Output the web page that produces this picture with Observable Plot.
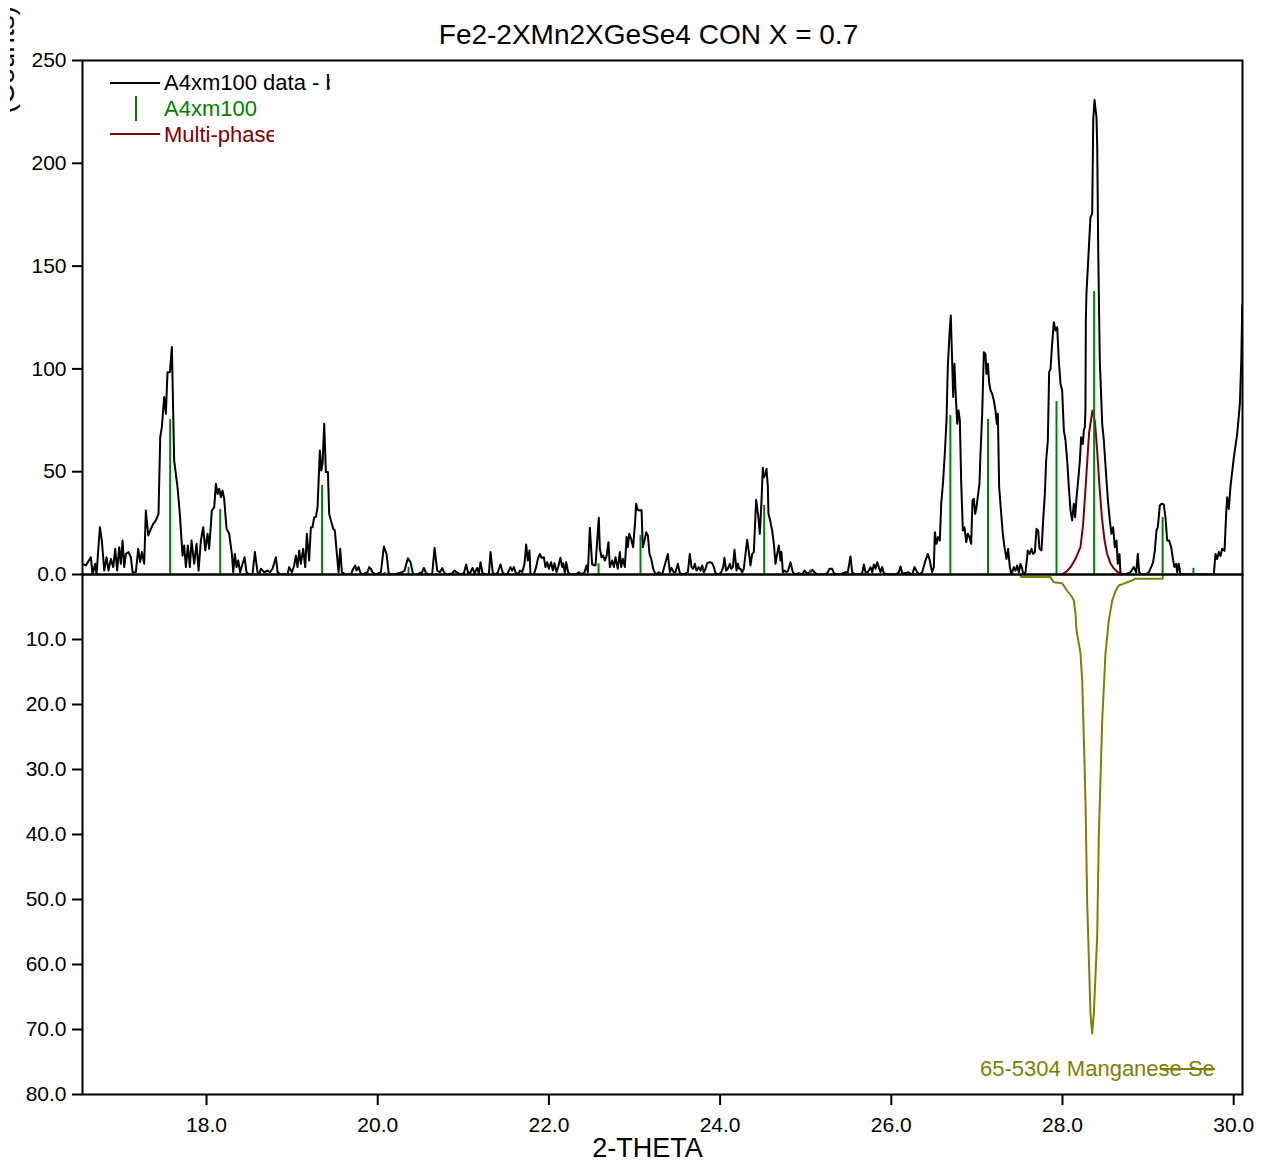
<!DOCTYPE html>
<html><head><meta charset="utf-8">
<script src="https://cdn.jsdelivr.net/npm/d3@7"></script>
<script src="https://cdn.jsdelivr.net/npm/@observablehq/plot@0.6"></script>
<style>
body{margin:0;background:#fff;}
#wrap{position:relative;width:1272px;height:1164px;overflow:hidden;font-family:"Liberation Sans",Arial,sans-serif;}
#top,#bottom{position:absolute;left:0;}
#top{top:0;z-index:2}
#bottom{top:574px;z-index:1}
.lg{position:absolute;white-space:nowrap;overflow:hidden;font-size:22px;line-height:26px;height:26px;z-index:3}
.sw{position:absolute;z-index:3}
#ylab{position:absolute;left:10px;top:0;width:30px;height:125px;overflow:hidden;z-index:3}
</style></head>
<body><div id="wrap">
<div id="top"></div><div id="bottom"></div>
<div id="ylab"><svg width="30" height="125"><text transform="translate(4,6) rotate(-90)" text-anchor="end" font-size="28" font-family="Liberation Sans, Arial, sans-serif" fill="#000">(Counts)</text></svg></div>
<div class="sw" style="left:110px;top:82px;width:50px;height:2px;background:#000"></div>
<div class="lg" style="left:164px;top:70px;width:166px;color:#000">A4xm100 data - background</div>
<div class="sw" style="left:135px;top:96px;width:2px;height:25px;background:#008000"></div>
<div class="lg" style="left:164px;top:96px;width:93px;color:#008000">A4xm100</div>
<div class="sw" style="left:110px;top:133px;width:50px;height:2px;background:#800000"></div>
<div class="lg" style="left:164px;top:122px;width:110px;color:#800000">Multi-phase fit</div>
<div class="lg" style="left:980px;top:1056px;width:235px;color:#808000">65-5304 Manganese Selenide</div>
<div class="sw" style="left:1160px;top:1068px;width:55px;height:2px;background:#808000"></div>
</div>
<script>
const titleText = "Fe2-2XMn2XGeSe4 CON X = 0.7";
const xLabel = "2-THETA";
const xDomain = [16.551, 30.103];
const xTicks = [18, 20, 22, 24, 26, 28, 30];
const yTopTicks = [0, 50, 100, 150, 200, 250];
const yTopLabels = ["0.0", "50", "100", "150", "200", "250"];
const yBotTicks = [10, 20, 30, 40, 50, 60, 70, 80];

// observed pattern (2-theta, counts)
const obsX = [16.551,16.590,16.649,16.668,16.699,16.715,16.754,16.777,16.805,16.832,16.855,16.882,16.910,16.933,16.956,16.980,16.999,17.019,17.038,17.058,17.089,17.116,17.136,17.174,17.202,17.225,17.245,17.272,17.291,17.319,17.350,17.377,17.408,17.439,17.459,17.478,17.505,17.525,17.544,17.572,17.595,17.622,17.661,17.688,17.720,17.739,17.759,17.782,17.805,17.825,17.856,17.883,17.907,17.934,17.961,17.985,18.012,18.031,18.062,18.090,18.109,18.129,18.148,18.168,18.187,18.206,18.234,18.265,18.296,18.312,18.331,18.351,18.370,18.393,18.421,18.444,18.467,18.498,18.537,18.565,18.596,18.615,18.635,18.674,18.713,18.740,18.771,18.810,18.830,18.868,18.946,18.966,18.997,19.024,19.044,19.063,19.083,19.102,19.129,19.153,19.172,19.199,19.219,19.238,19.258,19.277,19.297,19.324,19.340,19.355,19.375,19.394,19.418,19.433,19.453,19.480,19.499,19.519,19.542,19.562,19.581,19.628,19.686,19.714,19.737,19.752,19.776,19.795,19.822,19.881,19.900,19.920,19.939,19.978,20.037,
20.072,20.103,20.130,20.188,20.286,20.313,20.352,20.383,20.414,20.461,20.519,20.539,20.566,20.597,20.636,20.664,20.695,20.726,20.753,20.780,20.812,20.870,20.897,20.928,20.967,21.006,21.033,21.057,21.084,21.107,21.131,21.162,21.181,21.201,21.224,21.259,21.298,21.318,21.345,21.376,21.403,21.435,21.462,21.512,21.551,21.571,21.590,21.610,21.637,21.660,21.688,21.715,21.734,21.754,21.773,21.785,21.824,21.851,21.871,21.894,21.914,21.941,21.960,21.980,21.999,22.026,22.046,22.065,22.089,22.108,22.135,22.155,22.167,22.186,22.202,22.225,22.252,22.311,22.350,22.389,22.416,22.439,22.455,22.478,22.505,22.544,22.583,22.595,22.615,22.634,22.653,22.673,22.696,22.712,22.739,22.759,22.778,22.805,22.829,22.844,22.864,22.887,22.907,22.922,22.938,22.961,22.984,23.008,23.019,23.039,23.062,23.082,23.097,23.117,23.136,23.156,23.175,23.195,23.218,23.245,23.284,23.323,23.389,23.413,23.432,23.459,23.479,23.506,23.530,
23.576,23.623,23.646,23.666,23.685,23.705,23.724,23.752,23.771,23.791,23.810,23.830,23.849,23.880,23.907,23.927,23.946,23.985,24.013,24.036,24.051,24.071,24.090,24.114,24.129,24.149,24.168,24.192,24.207,24.223,24.238,24.258,24.277,24.297,24.316,24.336,24.355,24.375,24.394,24.421,24.445,24.464,24.484,24.499,24.511,24.530,24.542,24.558,24.565,24.589,24.608,24.628,24.647,24.667,24.686,24.706,24.717,24.733,24.752,24.776,24.795,24.822,24.850,24.881,24.920,24.959,24.986,25.017,25.056,25.076,25.103,25.134,25.173,25.212,25.251,25.278,25.309,25.329,25.368,25.407,25.434,25.465,25.492,25.523,25.543,25.582,25.621,25.660,25.679,25.699,25.726,25.757,25.777,25.796,25.816,25.835,25.854,25.874,25.893,25.913,25.952,26.010,26.049,26.088,26.108,26.127,26.166,26.197,26.217,26.244,26.271,26.302,26.333,26.361,26.399,26.427,26.450,26.477,26.497,26.509,
26.528,26.547,26.567,26.583,26.606,26.625,26.645,26.660,26.680,26.695,26.711,26.723,26.738,26.754,26.770,26.785,26.801,26.816,26.836,26.855,26.875,26.894,26.914,26.933,26.949,26.964,26.980,26.995,27.015,27.030,27.042,27.062,27.081,27.100,27.112,27.128,27.143,27.159,27.178,27.198,27.217,27.233,27.245,27.260,27.284,27.303,27.322,27.346,27.365,27.385,27.404,27.431,27.451,27.470,27.490,27.509,27.529,27.541,27.568,27.595,27.618,27.638,27.657,27.677,27.696,27.716,27.731,27.755,27.774,27.794,27.809,27.829,27.844,27.860,27.879,27.899,27.918,27.938,27.957,27.977,27.996,28.016,28.035,28.055,28.074,28.094,28.113,28.132,28.148,28.164,28.183,28.203,28.218,28.238,28.249,28.261,28.268,28.273,28.280,28.327,28.347,28.359,28.374,28.397,28.406,28.417,28.429,28.436,28.464,28.483,28.514,28.534,28.553,28.572,28.592,28.611,28.631,28.646,28.666,28.678,28.709,28.736,28.794,28.833,28.861,28.880,28.896,28.919,28.970,29.009,29.036,29.059,29.079,29.098,29.114,29.137,29.157,29.184,29.203,29.223,29.246,29.270,29.293,29.308,29.328,29.340,29.359,29.379,29.495,29.612,29.768,29.787,29.807,29.826,29.846,29.865,29.893,29.912,29.924,29.943,29.963,30.002,30.041,30.072,30.089,30.100];
const obsY = [5.2,4.4,8.4,0,5.2,0,23.0,16.5,1.9,8.4,1.9,7.6,3.6,12.5,1.9,13.3,5.2,16.5,3.6,10.0,10.9,8.4,1.1,1.1,12.5,6.0,10.9,5.2,31.1,19.0,22.2,24.6,26.3,29.5,66.8,71.7,86.3,78.2,98.4,98.4,110.6,55.4,42.5,29.5,9.2,14.1,3.6,14.1,3.6,16.5,5.2,14.9,1.9,16.5,23.0,11.7,19.8,12.5,31.1,32.7,44.1,39.2,41.7,37.6,40.9,36.8,22.2,19.8,10.0,1.1,10.0,3.6,6.8,1.1,5.2,8.4,1.1,0,0,10.9,1.1,0,2.8,1.1,1.9,1.1,2.8,8.4,1.1,0,0,3.6,1.1,4.4,9.2,3.6,11.7,5.2,12.5,3.6,19.8,6.8,23.0,23.0,27.9,27.9,32.7,60.3,50.6,53.8,73.3,49.8,49.8,29.5,26.3,22.2,21.4,11.7,1.1,12.5,1.1,0,0,2.8,4.4,1.9,3.6,1.1,0,1.1,3.6,2.8,1.1,0,1.1,
13.6,10.0,0,0,1.1,1.9,7.9,6.0,0,0,1.1,3.2,0.6,0,0,13.0,1.9,1.1,3.1,0.6,0,0.6,1.9,0.9,0,0.6,4.9,0.6,1.1,3.2,0.6,3.2,0.6,6.0,0.6,0,0,10.9,0.6,0,1.1,4.9,0.6,0,3.6,1.9,3.6,1.1,0,1.9,1.1,5.2,14.6,6.8,11.7,0,0,3.6,7.6,10.0,8.1,8.4,3.6,6.0,2.8,6.0,1.9,5.5,1.1,3.6,8.1,3.6,5.5,0.6,6.0,1.1,0,0,1.1,0,1.1,4.4,1.1,22.7,4.9,4.4,27.6,12.5,8.4,9.2,6.8,8.8,15.7,3.6,6.8,3.6,8.4,2.8,10.9,3.6,7.6,3.6,18.2,13.3,19.8,17.3,13.3,26.3,34.4,31.4,31.1,31.4,13.3,16.5,20.6,19.0,10.0,7.6,2.8,0,1.1,0,10.0,1.1,3.2,1.1,1.1,5.2,0.6,
0,1.1,10.0,3.6,2.8,5.2,1.9,3.6,1.9,4.4,1.1,2.8,5.5,6.0,5.5,3.6,0.6,0,1.1,3.6,8.1,1.9,2.8,5.2,2.8,3.6,12.0,1.9,5.2,2.8,2.8,1.1,2.8,10.0,16.9,10.9,4.4,10.0,10.9,36.3,28.7,19.8,36.0,51.9,47.3,49.0,51.4,42.5,29.5,25.5,21.4,14.9,5.2,10.0,14.1,6.8,10.9,1.1,1.9,1.1,1.9,6.0,1.1,0,0.6,0,1.9,0.6,1.1,2.3,1.1,0,0,0,0.6,2.8,2.8,0.6,0,0,0.6,1.1,1.1,8.8,1.1,0,0,0.6,4.9,1.1,1.1,3.6,1.1,4.9,2.8,6.0,3.6,1.1,3.6,0.6,0,0,0,1.1,3.9,0.6,0.6,1.1,0.6,0,3.6,1.1,0,1.1,6.8,10.0,6.8,1.1,3.6,20.6,
14.9,18.2,16.5,34.4,45.7,58.7,74.9,100.8,117.1,126.0,104.0,86.3,102.5,86.3,73.3,79.8,74.9,45.7,21.4,23.0,15.7,19.8,18.2,14.9,36.0,36.8,29.5,32.7,39.2,44.1,58.7,78.2,108.1,107.3,97.6,102.5,93.5,89.5,87.9,84.6,79.8,73.3,78.2,42.5,29.5,19.8,13.3,7.6,12.5,3.6,0,3.6,1.9,4.4,1.1,5.2,2.8,0,1.1,11.7,10.0,12.5,10.0,10.9,22.2,21.4,12.5,11.7,26.3,39.2,55.4,65.2,98.4,100.0,112.2,122.7,118.7,120.3,104.0,92.7,89.5,70.0,65.2,55.4,42.5,31.1,26.3,34.4,27.9,37.6,45.7,55.4,66.8,63.5,70.0,71.7,79.8,123.5,136.7,173.8,175.5,220.8,230.9,222.4,207.8,159.2,123.5,104.0,73.3,65.2,45.7,34.4,26.3,19.8,23.0,13.3,16.5,5.2,10.0,0,0,0,1.1,3.6,1.1,10.0,1.1,0,0,1.1,3.6,6.0,11.7,21.4,23.0,33.6,34.4,34.1,27.9,16.5,16.5,13.3,6.8,3.6,5.2,1.1,5.2,0,0,0,0,10.0,7.5,11.0,9.0,12.5,11.5,29.5,37.6,31.9,43.0,57.0,68.4,83.0,104.0,131.0];

// reference peak positions (sticks)
const stickX = [17.575,18.16,19.35,20.08,20.36,21.69,22.58,23.07,24.515,25.05,26.69,27.13,27.93,28.37,29.17,29.53];
const stickY = [75.4,31.6,43.3,1.1,3.5,1.0,5.2,19.0,33.6,2.0,77.3,75.4,84.1,137.6,27.7,3.0];

// multi-phase fit
const fitX = [27.99,28.05,28.10,28.15,28.21,28.24,28.27,28.31,28.35,28.38,28.405,28.43,28.46,28.49,28.52,28.56,28.60,28.65,28.70];
const fitY = [0,1.5,3.9,7.5,13.3,24,42.5,68.6,79.8,74,60.3,44,27.9,17,10.2,5.5,2.9,1,0];

// 65-5304 Manganese Selenide reference (drawn downward)
const refX = [27.509,27.515,27.860,27.898,27.996,28.055,28.113,28.132,28.152,28.164,28.210,28.230,28.249,28.269,28.289,28.327,28.347,28.366,28.405,28.424,28.464,28.502,28.541,28.581,28.621,28.658,28.716,28.756,28.815,28.853,29.170,29.175];
const refY = [0,0.4,0.4,1.2,1.35,2.5,3.5,4.0,6.0,8.6,12.1,16.3,25.0,35.2,50.7,67.5,70.6,67.6,55.8,40.4,22.5,12.2,7.1,4.0,2.5,1.7,1.4,1.2,0.9,0.65,0.65,0];

const obs = obsX.map((x,i)=>({x, y:obsY[i]}));
const sticks = stickX.map((x,i)=>({x, y:stickY[i]}));
const fit = fitX.map((x,i)=>({x, y:fitY[i]}));
const ref = refX.map((x,i)=>({x, y:refY[i]}));

const FONT = "Liberation Sans, Arial, sans-serif";
const W = 1272, ML = 82, MR = 30;

const topPlot = Plot.plot({
  width: W, height: 574, marginTop: 60, marginBottom: 0, marginLeft: ML, marginRight: MR,
  style: {fontFamily: FONT, background: "transparent", color: "#000", overflow: "visible"},
  x: {domain: xDomain, axis: null},
  y: {domain: [0, 250], axis: null},
  marks: [
    Plot.axisY({ticks: yTopTicks, tickFormat: d => yTopLabels[yTopTicks.indexOf(d)], tickSize: 10, tickPadding: 6, strokeWidth: 2, fontSize: 21, label: null}),
    Plot.line(obs, {x: "x", y: "y", stroke: "#000", strokeWidth: 2, clip: true}),
    Plot.line(fit, {x: "x", y: "y", stroke: "#800000", strokeWidth: 2}),
    Plot.ruleX(sticks, {x: "x", y1: 0, y2: "y", stroke: "#008000", strokeWidth: 2}),
    Plot.frame({stroke: "#000", strokeWidth: 2}),
    Plot.text([titleText], {text: d => d, frameAnchor: "top", dx: -14, dy: -25, fontSize: 28, fill: "#000", lineAnchor: "middle"})
  ]
});
topPlot.style.overflow = "visible";
document.getElementById("top").appendChild(topPlot);

const botPlot = Plot.plot({
  width: W, height: 590, marginTop: 0, marginBottom: 70, marginLeft: ML, marginRight: MR,
  style: {fontFamily: FONT, background: "transparent", color: "#000", overflow: "visible"},
  x: {domain: xDomain, axis: null},
  y: {domain: [0, 80], reverse: true, axis: null},
  marks: [
    Plot.axisY({ticks: yBotTicks, tickFormat: d => d.toFixed(1), tickSize: 10, tickPadding: 6, strokeWidth: 2, fontSize: 21, label: null}),
    Plot.axisX({ticks: xTicks, tickFormat: d => d.toFixed(1), tickSize: 11, tickPadding: 12, strokeWidth: 2, fontSize: 21, label: null}),
    Plot.line(ref, {x: "x", y: "y", stroke: "#808000", strokeWidth: 2}),
    Plot.frame({stroke: "#000", strokeWidth: 2}),
    Plot.text([xLabel], {text: d => d, frameAnchor: "bottom", dx: -15, dy: 54, fontSize: 27, fill: "#000", lineAnchor: "middle"})
  ]
});
botPlot.style.overflow = "visible";
document.getElementById("bottom").appendChild(botPlot);
</script>
</body></html>
